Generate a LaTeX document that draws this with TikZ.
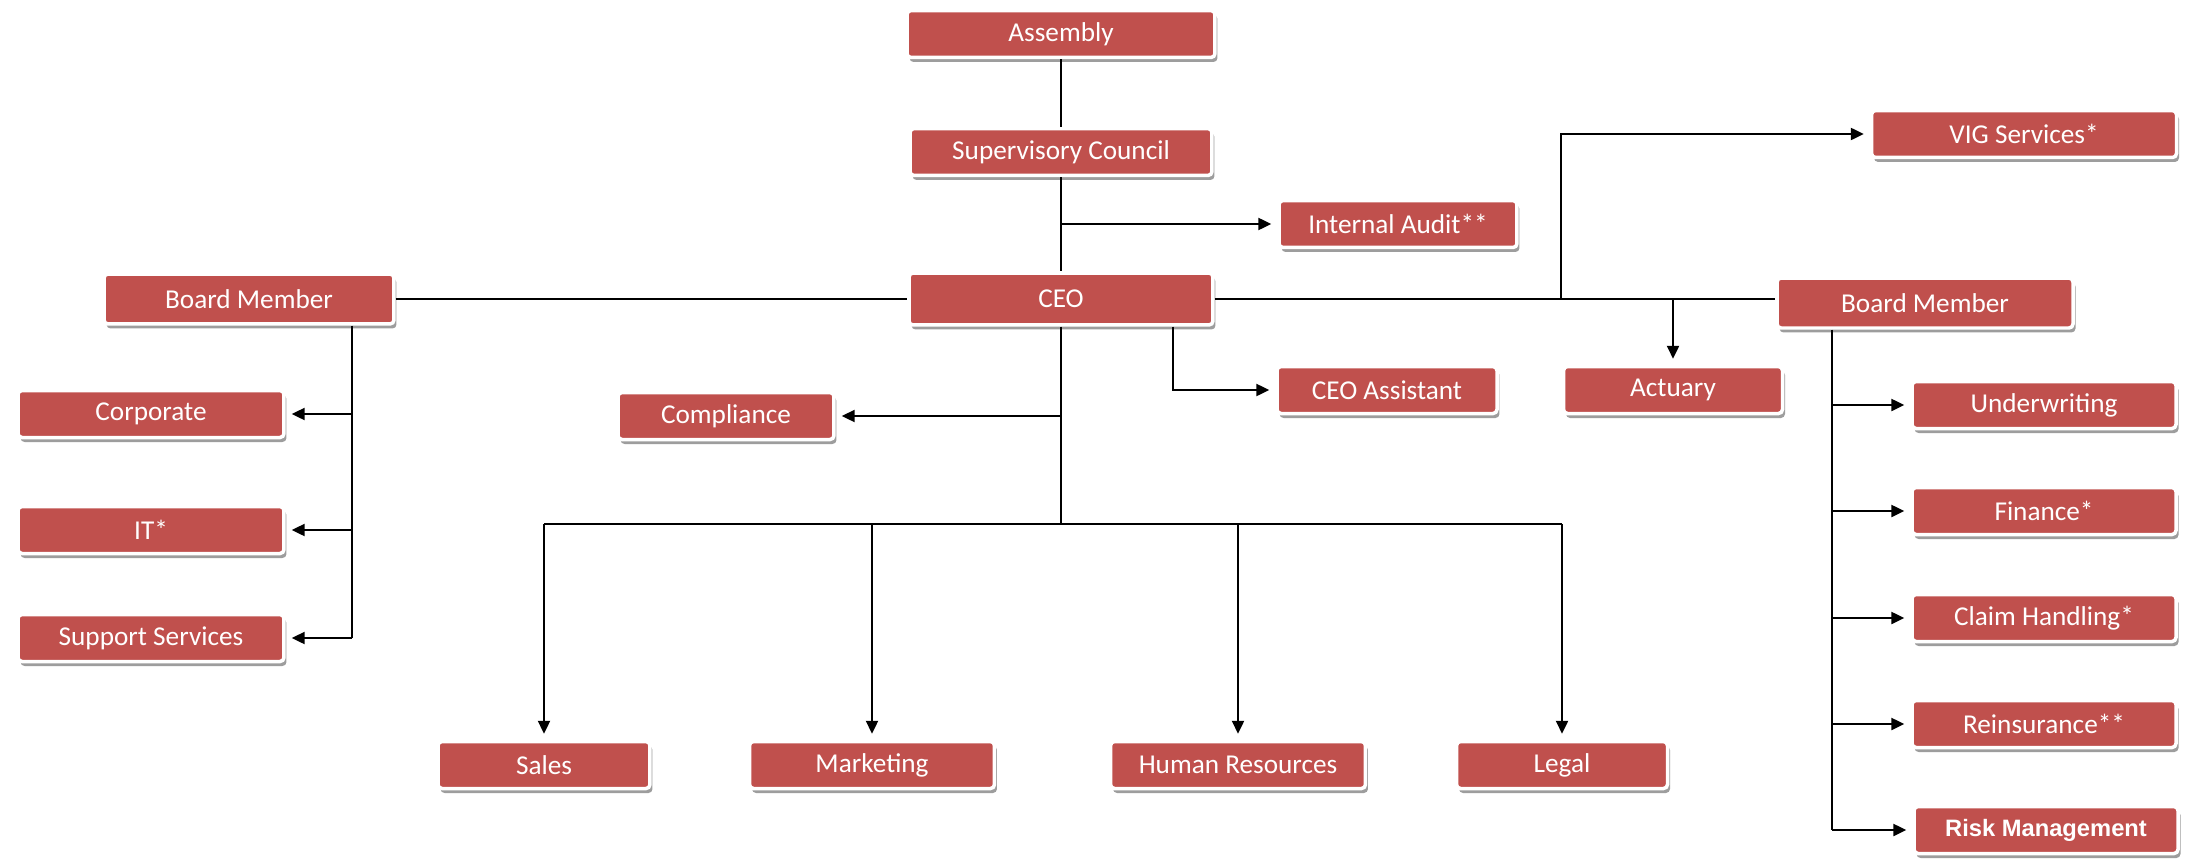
\documentclass[tikz,border=0pt]{standalone}
\usepackage{fontspec}
\setmainfont{Carlito}
\newfontfamily\riskfont{Liberation Sans}
\usepackage{tikz}
\usetikzlibrary{arrows.meta,shadows}
\definecolor{boxred}{RGB}{192,80,77}

\begin{document}
\begin{tikzpicture}[x=0.02cm,y=-0.02cm,
	unit/.style={rectangle,rounded corners=0.08cm,fill=boxred,draw=white,line width=0.07cm,
		text=white,font=\fontsize{15.5}{18}\selectfont,minimum height=0.94cm,inner sep=0pt,
		drop shadow={shadow xshift=0.05cm,shadow yshift=-0.09cm,fill=black!70,opacity=0.55}},
	link/.style={line width=1.3pt,black},
	arr/.style={link,-{Triangle[length=0.26cm,width=0.24cm]},shorten >=0.12cm}]
				\useasboundingbox (0,0) rectangle (2193,862);
				% top of the chart
				\node[unit,minimum width=6.16cm] (asm) at (1061,34) {Assembly};
				\node[unit,minimum width=6.04cm] (sup) at (1061,152) {Supervisory Council};
				\node[unit,minimum width=4.76cm] (audit) at (1398,224) {Internal Audit**};
				\node[unit,minimum width=6.08cm,minimum height=1.04cm] (ceo) at (1061,299) {CEO};
				\node[unit,minimum width=6.1cm] (vig) at (2024,134) {VIG Services*};
				\node[unit,minimum width=4.4cm] (asst) at (1387,390) {CEO Assistant};
				\node[unit,minimum width=4.38cm] (act) at (1673,390) {Actuary};
				\node[unit,minimum width=4.32cm] (comp) at (726,416) {Compliance};
				
				% left board member
				\node[unit,minimum width=5.8cm,minimum height=1cm] (bml) at (249,299) {Board Member};
				\node[unit,minimum width=5.32cm] (corp) at (151,414) {Corporate};
				\node[unit,minimum width=5.32cm] (it) at (151,530) {IT*};
				\node[unit,minimum width=5.32cm] (supp) at (151,638) {Support Services};
				
				% right board member
				\node[unit,minimum width=5.92cm,minimum height=1cm] (bmr) at (1925,303) {Board Member};
				\node[unit,minimum width=5.28cm] (undw) at (2044,405) {Underwriting};
				\node[unit,minimum width=5.28cm] (fin) at (2044,511) {Finance*};
				\node[unit,minimum width=5.28cm] (claim) at (2044,618) {Claim Handling*};
				\node[unit,minimum width=5.28cm] (reins) at (2044,724) {Reinsurance**};
				\node[unit,minimum width=5.28cm,font=\riskfont\bfseries\fontsize{13.5}{15}\selectfont] (risk) at (2046,830) {Risk Management};
				
				% bottom row
				\node[unit,minimum width=4.24cm] (sales) at (544,765) {Sales};
				\node[unit,minimum width=4.9cm] (mkt) at (872,765) {Marketing};
				\node[unit,minimum width=5.1cm] (hr) at (1238,765) {Human Resources};
				\node[unit,minimum width=4.22cm] (legal) at (1562,765) {Legal};
				
				\coordinate (auditfork) at (1061,224);
				\coordinate (vigfork) at (1561,299);
				\coordinate (bus) at (1061,524);
				\coordinate (lspine) at (352,638);
				\coordinate (rspine) at (1832,830);
				
				\draw[link] (asm) -- (sup);
				\draw[link] (sup) -- (ceo);
				\draw[arr] (auditfork) -- (audit);
				\draw[link] (bml) -- (ceo);
				\draw[link] (ceo.east) -- (ceo.east -| bmr.west);
				\draw[arr] (vigfork) |- (vig);
				\draw[arr] (act.north |- ceo.east) -- (act.north);
				\draw[arr] ([xshift=2.24cm]ceo.south) |- (asst);
				\draw[link] (ceo) -- (bus);
				\draw[arr] (ceo.south |- comp.east) -- (comp.east);
				
				\draw[link] (sales.north |- bus) -- (legal.north |- bus);
				\foreach \d in {sales,mkt,hr,legal}
					\draw[arr] (\d.north |- bus) -- (\d.north);
				
				\draw[link] (bml.south -| lspine) -- (lspine);
				\foreach \d in {corp,it,supp}
					\draw[arr] (\d.east -| lspine) -- (\d.east);
				
				\draw[link] (bmr.south -| rspine) -- (rspine);
				\foreach \d in {undw,fin,claim,reins,risk}
					\draw[arr] (\d.west -| rspine) -- (\d.west);
			\end{tikzpicture}
\end{document}
